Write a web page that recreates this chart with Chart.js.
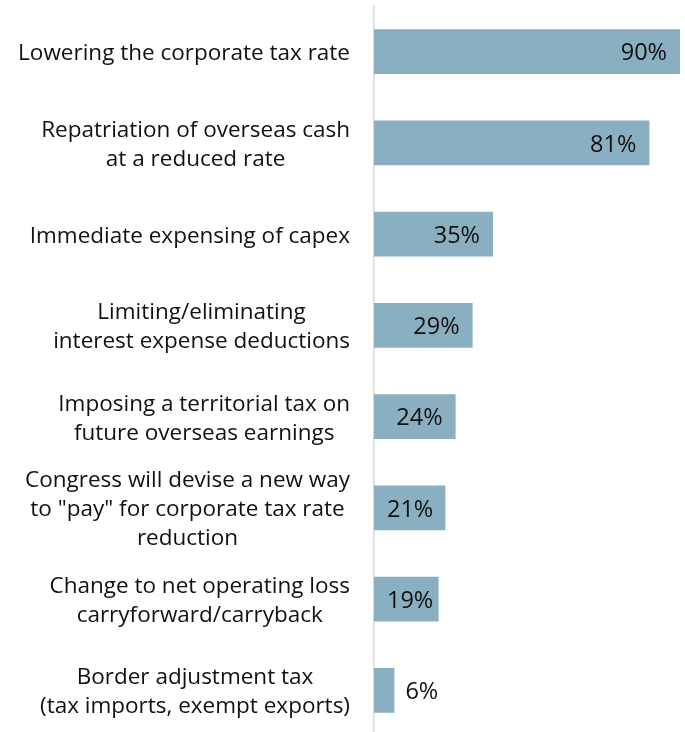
<!DOCTYPE html>
<html>
<head>
<meta charset="utf-8">
<script src="https://cdn.jsdelivr.net/npm/chart.js@4/dist/chart.umd.min.js"></script>
<style>
  html, body { margin: 0; padding: 0; background: #fff; overflow: hidden; }
  #wrap { width: 685px; height: 740px; }
</style>
</head>
<body>
<div id="wrap"><canvas id="chart"></canvas></div>
<script>
// survey answers, one entry per bar (lines of each label kept separate)
const labels = [
  ["Lowering the corporate tax rate"],
  ["Repatriation of overseas cash", "at a reduced rate"],
  ["Immediate expensing of capex"],
  ["Limiting/eliminating", "interest expense deductions"],
  ["Imposing a territorial tax on", "future overseas earnings"],
  ["Congress will devise a new way", "to \"pay\" for corporate tax rate", "reduction"],
  ["Change to net operating loss", "carryforward/carryback"],
  ["Border adjustment tax", "(tax imports, exempt exports)"]
];
const values = [90, 81, 35, 29, 24, 21, 19, 6];

const FONT = '"Open Sans", "Noto Sans", sans-serif';
const LABEL_SIZE = 22.5;
const VALUE_SIZE = 23.5;
const TEXT = '#111';
const NUDGE = 2; // optical centring of text against the bars

// category labels: each block right-aligned to the axis, lines centred inside it
const categoryLabels = {
  id: 'categoryLabels',
  afterDraw(chart) {
    const ctx = chart.ctx;
    const y = chart.scales.y;
    const right = chart.chartArea.left - 24;
    const lineH = 29;
    ctx.save();
    ctx.font = LABEL_SIZE + 'px ' + FONT;
    ctx.fillStyle = TEXT;
    ctx.textAlign = 'center';
    ctx.textBaseline = 'middle';
    labels.forEach((lines, i) => {
      const w = Math.max(...lines.map(l => ctx.measureText(l).width));
      const cx = right - w / 2;
      const cy = y.getPixelForTick(i) + NUDGE;
      const top = cy - (lines.length - 1) * lineH / 2;
      lines.forEach((l, j) => ctx.fillText(l, cx, top + j * lineH));
    });
    ctx.restore();
  }
};

// value labels: inside the end of the bar, pushed outside when the bar is too short
const valueLabels = {
  id: 'valueLabels',
  afterDatasetsDraw(chart) {
    const ctx = chart.ctx;
    const meta = chart.getDatasetMeta(0);
    const x0 = chart.scales.x.getPixelForValue(0);
    ctx.save();
    ctx.font = VALUE_SIZE + 'px ' + FONT;
    ctx.fillStyle = TEXT;
    ctx.textBaseline = 'middle';
    meta.data.forEach((bar, i) => {
      const txt = values[i] + '%';
      const w = ctx.measureText(txt).width;
      const end = bar.x;
      if (end - x0 < w + 16) {
        ctx.textAlign = 'left';
        ctx.fillText(txt, end + 11, bar.y + NUDGE);
      } else {
        ctx.textAlign = 'right';
        ctx.fillText(txt, Math.max(end - 13, x0 + 13 + w), bar.y + NUDGE);
      }
    });
    ctx.restore();
  }
};

new Chart(document.getElementById('chart'), {
  type: 'bar',
  data: {
    labels: labels,
    datasets: [{
      data: values,
      backgroundColor: '#8aafc1',
      borderWidth: 0,
      barPercentage: 0.493,
      categoryPercentage: 1
    }]
  },
  options: {
    indexAxis: 'y',
    responsive: true,
    maintainAspectRatio: false,
    animation: false,
    layout: { padding: { left: 374, right: 5, top: 6, bottom: 4 } },
    plugins: {
      legend: { display: false },
      tooltip: { enabled: false }
    },
    scales: {
      x: {
        min: 0,
        max: 90,
        display: false
      },
      y: {
        grid: { display: false, drawTicks: false },
        border: { display: true, color: '#d9d9d9', width: 1.5 },
        ticks: { display: false }
      }
    }
  },
  plugins: [categoryLabels, valueLabels]
});
</script>
</body>
</html>
